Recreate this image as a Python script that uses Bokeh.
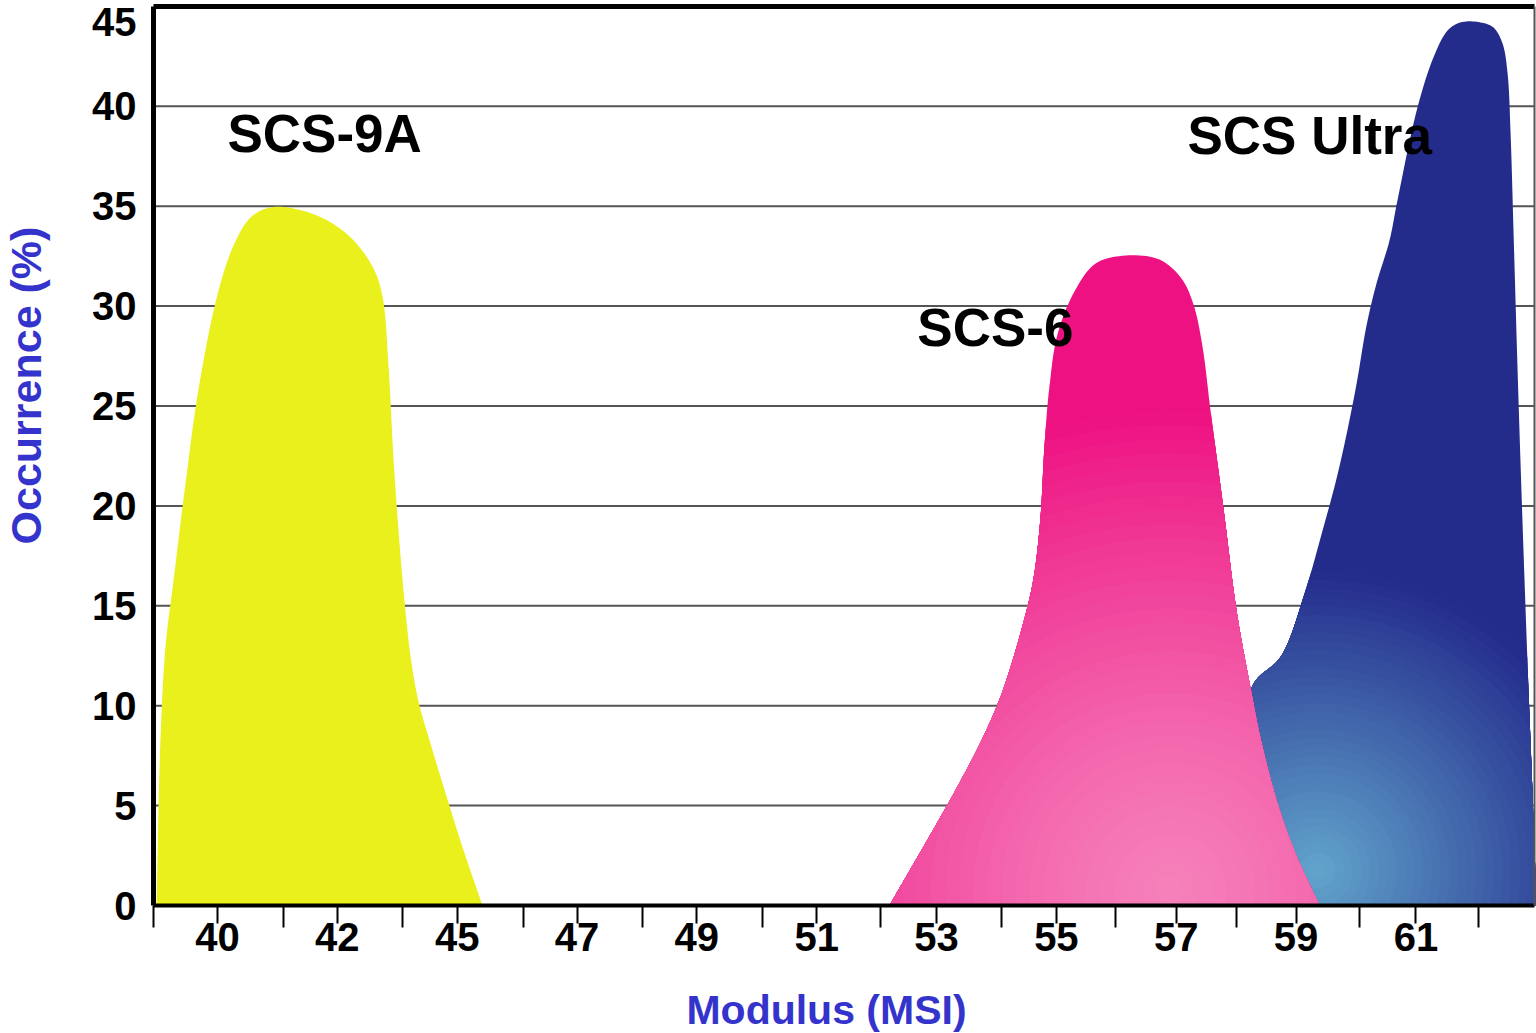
import numpy as np
from bokeh.plotting import figure
from bokeh.models import FixedTicker, LinearAxis, Range1d, Label
from bokeh.core.properties import value
from bokeh.embed import file_html
from bokeh.resources import INLINE

# ---------------- data ----------------
# x is measured in tick-slot units: slot i carries modulus_labels[i]
modulus_labels = ["40", "42", "45", "47", "49", "51", "53", "55", "57", "59", "61"]
slot_ticks = list(range(len(modulus_labels)))
boundary_ticks = [-0.53, 0.55, 1.54, 2.55, 3.55, 4.55, 5.53, 6.54, 7.49, 8.50, 9.53, 10.52]
occurrence_ticks = [0, 5, 10, 15, 20, 25, 30, 35, 40]
occurrence_top = 45
occurrence_grid = [5, 10, 15, 20, 25, 30, 35, 40]

series_names = ["SCS-9A", "SCS-6", "SCS Ultra"]

scs9a_x = [-0.509, -0.476, -0.434, -0.367, -0.267, -0.159, 0.0, 0.134, 0.275, 0.442,
           0.668, 0.918, 1.135, 1.302, 1.377, 1.427, 1.469, 1.510, 1.552, 1.610,
           1.677, 1.777, 1.919, 2.053, 2.211]
scs9a_y = [0.0, 8.31, 12.96, 16.27, 21.12, 25.82, 30.58, 33.03, 34.43, 34.94,
           34.84, 34.28, 33.29, 31.88, 30.48, 26.98, 22.32, 18.81, 15.77, 12.51,
           10.21, 8.11, 5.31, 2.76, 0.0]

scs6_x = [5.607, 6.125, 6.367, 6.550, 6.759, 6.817, 6.868, 6.901, 6.943, 7.009,
          7.151, 7.327, 7.577, 7.860, 8.044, 8.144, 8.219, 8.286, 8.394, 8.503,
          8.611, 8.711, 8.853, 8.995, 9.195]
scs6_y = [0.0, 5.41, 8.16, 10.71, 14.96, 16.66, 19.47, 23.07, 26.03, 28.58,
          30.73, 32.13, 32.53, 32.33, 31.38, 30.08, 27.98, 24.78, 19.87, 14.76,
          11.16, 8.16, 4.96, 2.60, 0.0]

ultra_x = [8.870, 8.620, 8.879, 9.071, 9.212, 9.354, 9.496, 9.588, 9.671, 9.780,
           9.846, 10.013, 10.147, 10.264, 10.372, 10.539, 10.648, 10.723, 10.765, 10.790,
           10.815, 10.848, 10.882, 10.932, 10.973, 11.007]
ultra_y = [0.0, 10.76, 12.51, 15.62, 18.57, 21.77, 25.82, 29.03, 31.13, 33.29,
           35.29, 39.94, 42.45, 43.79, 44.20, 44.20, 43.94, 43.14, 41.64, 38.64,
           33.64, 26.88, 20.52, 12.02, 5.60, 0.0]

# plotted area in data units (axes drawn at these locations)
X_LO, X_HI = -0.534, 10.99
Y_LO, Y_HI = 0, 45


# ---------------- drawing helpers ----------------
def smooth_outline(xs, ys, per=10, ax=120.0, ay=20.0):
    """Centripetal Catmull-Rom curve through the read points (drawing only)."""
    P = np.column_stack([np.asarray(xs, float) * ax, np.asarray(ys, float) * ay])
    P = np.vstack([2 * P[0] - P[1], P, 2 * P[-1] - P[-2]])
    out = [P[1]]
    for i in range(1, len(P) - 2):
        p0, p1, p2, p3 = P[i - 1], P[i], P[i + 1], P[i + 2]
        t0 = 0.0
        t1 = t0 + max(np.linalg.norm(p1 - p0), 1e-6) ** 0.5
        t2 = t1 + max(np.linalg.norm(p2 - p1), 1e-6) ** 0.5
        t3 = t2 + max(np.linalg.norm(p3 - p2), 1e-6) ** 0.5
        for t in np.linspace(t1, t2, per + 1)[1:]:
            a1 = (t1 - t) / (t1 - t0) * p0 + (t - t0) / (t1 - t0) * p1
            a2 = (t2 - t) / (t2 - t1) * p1 + (t - t1) / (t2 - t1) * p2
            a3 = (t3 - t) / (t3 - t2) * p2 + (t - t2) / (t3 - t2) * p3
            b1 = (t2 - t) / (t2 - t0) * a1 + (t - t0) / (t2 - t0) * a2
            b2 = (t3 - t) / (t3 - t1) * a2 + (t - t1) / (t3 - t1) * a3
            out.append((t2 - t) / (t2 - t1) * b1 + (t - t1) / (t2 - t1) * b2)
    out = np.array(out)
    return out[:, 0] / ax, np.clip(out[:, 1] / ay, 0, None)


def _clip(subject, clip_poly):
    def inside(p, a, b):
        return (b[0] - a[0]) * (p[1] - a[1]) - (b[1] - a[1]) * (p[0] - a[0]) >= 0

    def inter(s, e, a, b):
        dc = (a[0] - b[0], a[1] - b[1])
        dp = (s[0] - e[0], s[1] - e[1])
        n1 = a[0] * b[1] - a[1] * b[0]
        n2 = s[0] * e[1] - s[1] * e[0]
        den = dc[0] * dp[1] - dc[1] * dp[0]
        return ((n1 * dp[0] - n2 * dc[0]) / den, (n1 * dp[1] - n2 * dc[1]) / den)

    out = list(subject)
    for i in range(len(clip_poly)):
        a, b = clip_poly[i - 1], clip_poly[i]
        inp, out = out, []
        if not inp:
            break
        s = inp[-1]
        for e in inp:
            if inside(e, a, b):
                if not inside(s, a, b):
                    out.append(inter(s, e, a, b))
                out.append(e)
            elif inside(s, a, b):
                out.append(inter(s, e, a, b))
            s = e
    return out


def _mix(c1, c2, f):
    return "#%02x%02x%02x" % tuple(int(round(a + (b - a) * f)) for a, b in zip(c1, c2))


def radial_layers(xs, ys, cx, cy, rx, ry, inner, outer, n=32, gamma=1.3):
    xs = np.asarray(xs, float)
    ys = np.asarray(ys, float)
    subject = list(zip((xs - cx) / rx, (ys - cy) / ry))
    theta = np.linspace(0, 2 * np.pi, 121)[:-1]
    lx, ly, cols = [list(xs)], [list(ys)], [_mix(inner, outer, 1.0)]
    for k in range(n):
        r = 1.0 - k / n
        circ = [(r * np.cos(t), r * np.sin(t)) for t in theta]
        poly = _clip(subject, circ)
        if len(poly) < 3:
            continue
        u = np.array([q[0] for q in poly])
        v = np.array([q[1] for q in poly])
        lx.append(list(u * rx + cx))
        ly.append(list(v * ry + cy))
        tm = max(r - 0.5 / n, 0.0)
        cols.append(_mix(inner, outer, tm ** gamma))
    return lx, ly, cols


# ---------------- figure ----------------
FONT = "Liberation Sans"
BLUE = "#3434cc"

# the frame fills the whole canvas; the axes sit at fixed data locations
p = figure(width=1536, height=1033,
           x_range=Range1d(-1.8108, 11.0063), y_range=Range1d(-6.406, 45.295),
           x_axis_location=None, y_axis_location=None,
           output_backend="svg", toolbar_location=None,
           min_border_left=0, min_border_right=0, min_border_top=0, min_border_bottom=0)
p.outline_line_color = None
p.background_fill_color = "white"
p.border_fill_color = "white"
for g in p.grid:
    g.visible = False

# x axis
xa = LinearAxis(fixed_location=Y_LO, bounds=(X_LO, X_HI),
                ticker=FixedTicker(ticks=slot_ticks, minor_ticks=boundary_ticks),
                major_label_overrides={i: lab for i, lab in zip(slot_ticks, modulus_labels)},
                axis_line_width=4, axis_line_color="black",
                major_tick_out=18, major_tick_in=0, minor_tick_out=22, minor_tick_in=0,
                major_tick_line_width=2, minor_tick_line_width=2,
                major_tick_line_color="black", minor_tick_line_color="black",
                major_label_standoff=-5,
                major_label_text_font=FONT, major_label_text_font_style="bold",
                major_label_text_font_size="40px", major_label_text_color="black")
p.add_layout(xa, "below")

# y axis
ya = LinearAxis(fixed_location=X_LO, bounds=(Y_LO, Y_HI),
                ticker=FixedTicker(ticks=occurrence_ticks),
                axis_line_width=5, axis_line_color="black",
                major_tick_out=0, major_tick_in=0, minor_tick_out=0, minor_tick_in=0,
                major_label_standoff=17,
                major_label_text_font=FONT, major_label_text_font_style="bold",
                major_label_text_font_size="40px", major_label_text_color="black")
p.add_layout(ya, "left")

# top and right frame lines
p.add_layout(LinearAxis(fixed_location=Y_HI, bounds=(X_LO, X_HI), ticker=FixedTicker(ticks=[]),
                        axis_line_width=5, axis_line_color="black",
                        major_tick_out=0, major_tick_in=0, minor_tick_out=0, minor_tick_in=0),
             "above")
p.add_layout(LinearAxis(fixed_location=X_HI, bounds=(Y_LO, Y_HI), ticker=FixedTicker(ticks=[]),
                        axis_line_width=2, axis_line_color="#555555",
                        major_tick_out=0, major_tick_in=0, minor_tick_out=0, minor_tick_in=0),
             "right")

# horizontal grid lines (only inside the plotted area)
n_grid = len(occurrence_grid)
p.segment(x0=[X_LO] * n_grid, y0=occurrence_grid, x1=[X_HI] * n_grid, y1=occurrence_grid,
          line_color="#555555", line_width=2)

# ---------------- distributions ----------------
yx, yy = smooth_outline(scs9a_x, scs9a_y)
p.patch(yx, yy, fill_color="#e9f01c", line_color=None)

ux0, uy0 = smooth_outline(ultra_x, ultra_y)
ux, uy, uc = radial_layers(ux0, uy0, 9.179, 1.75, 2.5, 15.0,
                           (98, 164, 204), (35, 43, 139), n=34, gamma=1.0)
p.patches(ux, uy, fill_color=uc, line_color=None)

sx0, sy0 = smooth_outline(scs6_x, scs6_y)
sx, sy, sc = radial_layers(sx0, sy0, 7.952, 0.75, 4.0, 24.0,
                           (245, 128, 186), (238, 17, 130), n=34, gamma=1.3)
p.patches(sx, sy, fill_color=sc, line_color=None)

# series names
p.text(x=[0.083, 5.84, 8.094], y=[38.64, 28.93, 38.54], text=series_names,
       text_font=value(FONT), text_font_style="bold", text_font_size="53px",
       text_color="black", text_align="left", text_baseline="alphabetic")

# top tick label (sits a little below the top line, as in the original)
p.add_layout(Label(x=X_LO, y=occurrence_top, x_offset=-17, y_offset=-16, text=str(occurrence_top),
                   text_align="right", text_baseline="middle",
                   text_font=FONT, text_font_style="bold", text_font_size="40px",
                   text_color="black"))

# axis titles
p.add_layout(Label(x=25, y=648, x_units="screen", y_units="screen",
                   text="Occurrence (%)", angle=np.pi / 2,
                   text_align="center", text_baseline="middle",
                   text_font=FONT, text_font_style="bold", text_font_size="43px",
                   text_color=BLUE))
p.add_layout(Label(x=826, y=24, x_units="screen", y_units="screen",
                   text="Modulus (MSI)", text_align="center", text_baseline="middle",
                   text_font=FONT, text_font_style="bold", text_font_size="41px",
                   text_color=BLUE))

open("out.html", "w").write(file_html(p, INLINE))
